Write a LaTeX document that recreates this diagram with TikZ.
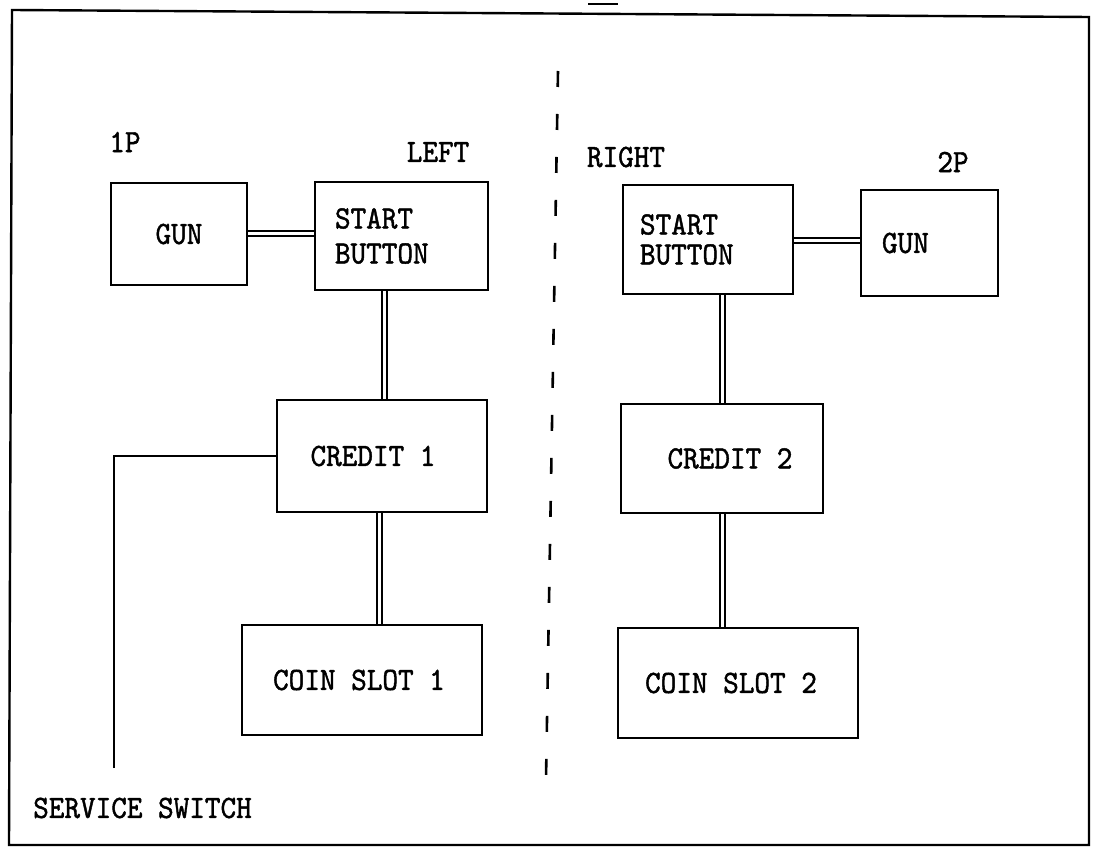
\documentclass[tikz,border=0pt]{standalone}
\usepackage{fontspec}
\newfontfamily\diafont{lmmono10-regular.otf}[FakeBold=1.3, FakeStretch=0.915]
\begin{document}
\begin{tikzpicture}[x=1pt,y=-1pt,
  txt/.style={font=\diafont\fontsize{32.5}{35}\selectfont},
  box/.style={txt, draw, line width=2.2pt, rectangle, inner ysep=0pt, inner xsep=0pt},
  dbl/.style={double, double distance=3pt, line width=2pt},
  wire/.style={line width=2.2pt},
  frame/.style={line width=2.4pt},
  divider/.style={line width=2.6pt, dash pattern=on 16pt off 27pt},
  lbl/.style={txt, inner sep=0pt}]
\useasboundingbox (0,0) rectangle (1096,850);
\fill[white] (0,0) rectangle (1096,850);
% outer frame
\coordinate (f1) at (12,10);
\coordinate (f2) at (1089,17);
\coordinate (f3) at (1089,845);
\coordinate (f4) at (9,845);
\draw[frame] (f1) -- (f2) -- (f3) -- (f4) -- cycle;
\coordinate (m1) at (588,4);
\coordinate (m2) at (618,4);
\draw[frame] (m1) -- (m2);
% divider
\coordinate (dtop) at (558,71);
\coordinate (dbot) at (546,779);
\draw[divider] (dtop) -- (dbot);
% boxes left
\node[box, minimum width=136pt, minimum height=102pt] (gunL) at (179,234) {GUN};
\node[box, minimum width=173pt, minimum height=108pt, text width=133pt, inner xsep=20pt, align=left] (startL) at (401.5,236) {START\\BUTTON};
\node[box, minimum width=210pt, minimum height=112pt] (creditL) at (382,456) {\hspace*{-18pt}CREDIT 1};
\node[box, minimum width=240pt, minimum height=110pt] (coinL) at (362,680) {\hspace*{-6pt}COIN SLOT 1};
% boxes right
\node[box, font=\diafont\fontsize{32.5}{30}\selectfont, minimum width=170pt, minimum height=109pt, text width=136pt, inner xsep=17pt, align=left] (startR) at (708,239.5) {START\\BUTTON};
\node[box, minimum width=137pt, minimum height=106pt, text width=95pt, inner xsep=21pt, align=left] (gunR) at (929.5,243) {GUN};
\node[box, minimum width=202pt, minimum height=109pt] (creditR) at (722,458.5) {\hspace*{16pt}CREDIT 2};
\node[box, minimum width=240pt, minimum height=110pt] (coinR) at (738,683) {\hspace*{-14pt}COIN SLOT 2};
% labels
\node[lbl] (lbl1p) at (125,142) {1P};
\node[lbl] (lblleft) at (438,152) {LEFT};
\node[lbl] (lblright) at (626,157) {RIGHT};
\node[lbl] (lbl2p) at (953,162) {2P};
\node[lbl] (lblsvc) at (142.5,808) {SERVICE SWITCH};
% connectors
\draw[dbl] (gunL.east) -- (gunL.east -| startL.west);
\draw[dbl] ([xshift=-17.5pt]startL.south) -- ([xshift=-17.5pt]startL.south |- creditL.north);
\draw[dbl] ([xshift=-3pt]creditL.south) -- ([xshift=-3pt]creditL.south |- coinL.north);
\draw[dbl] ([yshift=-1pt]startR.east) -- ([yshift=-1pt]startR.east -| gunR.west);
\draw[dbl] (creditR.north |- startR.south) -- (creditR.north);
\draw[dbl] (creditR.south) -- (creditR.south |- coinR.north);
\coordinate (sw) at (114,768);
\draw[wire] (sw) |- (creditL.west);
\end{tikzpicture}
\end{document}
